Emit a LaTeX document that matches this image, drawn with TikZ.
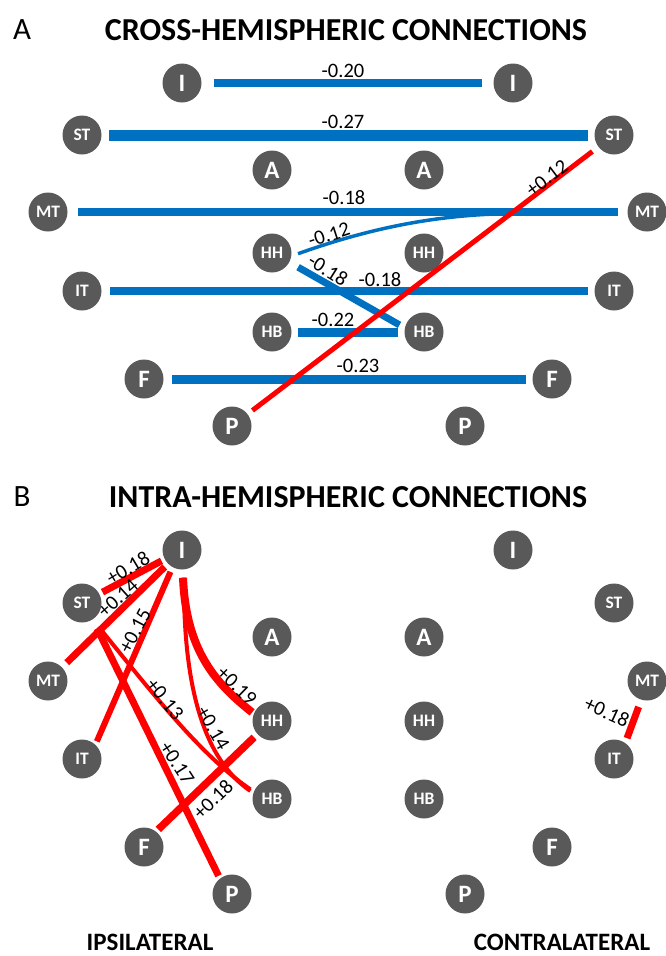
\documentclass[tikz,border=0pt]{standalone}
\usepackage{fontspec}
\setmainfont{Carlito}
\definecolor{ndgray}{HTML}{595959}
\definecolor{cblue}{HTML}{0070C0}
\definecolor{cred}{HTML}{FF0000}
\tikzset{
  nd/.style={circle, fill=ndgray, minimum size=39pt, inner sep=0pt, text=white, font=\bfseries\fontsize{25}{25}\selectfont},
  nds/.style={nd, font=\bfseries\fontsize{17.5}{17.5}\selectfont},
  bl/.style={draw=cblue, line width=#1},
  rd/.style={draw=cred, line width=#1},
  lab/.style={font=\fontsize{20.5}{20.5}\selectfont, inner sep=0pt, text=black},
  ttl/.style={font=\bfseries\fontsize{32}{32}\selectfont, inner sep=0pt},
  panl/.style={font=\fontsize{31}{31}\selectfont, inner sep=0pt},
  side/.style={font=\bfseries\fontsize{25}{25}\selectfont, inner sep=0pt},
}
\begin{document}
\begin{tikzpicture}[x=1pt,y=-1pt]
\useasboundingbox (0,0) rectangle (665,956);
% ---------------- Panel A ----------------
\node[panl] (pA) at (22,30) {A};
\node[ttl] (tA) at (346,30) {CROSS-HEMISPHERIC CONNECTIONS};
\node[nd]  (aIl)  at (182,83)  {I};
\node[nds] (aSTl) at (82,135)  {ST};
\node[nd]  (aAl)  at (272,170) {A};
\node[nds] (aMTl) at (48,212)  {MT};
\node[nds] (aHHl) at (272,253) {HH};
\node[nds] (aITl) at (82,291)  {IT};
\node[nds] (aHBl) at (272,332) {HB};
\node[nd]  (aFl)  at (144,379) {F};
\node[nd]  (aPl)  at (232,426) {P};
\node[nd]  (aIr)  at (513,83)  {I};
\node[nds] (aSTr) at (614,135) {ST};
\node[nd]  (aAr)  at (424,170) {A};
\node[nds] (aMTr) at (647,212) {MT};
\node[nds] (aHHr) at (424,253) {HH};
\node[nds] (aITr) at (614,291) {IT};
\node[nds] (aHBr) at (424,332) {HB};
\node[nd]  (aFr)  at (552,379) {F};
\node[nd]  (aPr)  at (465,426) {P};
\draw[bl=8, shorten <=12pt, shorten >=11pt] (aIl) -- (aIr);
\draw[bl=11, shorten <=7.5pt, shorten >=6.5pt] (aSTl) -- (aSTr);
\draw[bl=8, shorten <=10.5pt, shorten >=9.5pt] (aMTl) -- (aMTr);
\draw[bl=8, shorten <=8.5pt, shorten >=6.5pt] (aITl) -- (aITr);
\draw[bl=9, shorten <=6.5pt, shorten >=6.5pt] (aHBl) -- (aHBr);
\draw[bl=9, shorten <=8.5pt, shorten >=6.5pt] (aFl) -- (aFr);
\coordinate (mtjoin) at (520,213.5);
\draw[bl=3.5, shorten <=7pt, shorten >=10.5pt] (aHHl.-9) .. controls (370,228) and (440,213.5) .. (mtjoin) -- (aMTr.185);
\draw[bl=7, shorten <=10pt, shorten >=6pt] (aHHl.-28) -- (aHBr.168);
\draw[rd=5, shorten <=6pt, shorten >=7.5pt] (aPl) -- (aSTr);
\node[lab] (lA1) at (343,71) {-0.20};
\node[lab] (lA2) at (343,122) {-0.27};
\node[lab] (lA3) at (344,198) {-0.18};
\node[lab, rotate=18] (lA4) at (329,235) {-0.12};
\node[lab, rotate=-32] (lA5) at (328,270) {-0.18};
\node[lab] (lA6) at (380,280) {-0.18};
\node[lab] (lA7) at (333,320) {-0.22};
\node[lab] (lA8) at (358,366) {-0.23};
\node[lab, rotate=37] (lA9) at (547,178) {+0.12};
% ---------------- Panel B ----------------
\node[panl] (pB) at (22,497) {B};
\node[ttl] (tB) at (348,497) {INTRA-HEMISPHERIC CONNECTIONS};
\node[nd]  (bIl)  at (182,550) {I};
\node[nds] (bSTl) at (82,603)  {ST};
\node[nd]  (bAl)  at (272,637) {A};
\node[nds] (bMTl) at (48,681)  {MT};
\node[nds] (bHHl) at (272,721) {HH};
\node[nds] (bITl) at (82,759)  {IT};
\node[nds] (bHBl) at (272,799) {HB};
\node[nd]  (bFl)  at (144,847) {F};
\node[nd]  (bPl)  at (232,894) {P};
\node[nd]  (cIr)  at (513,550) {I};
\node[nds] (cSTr) at (614,603) {ST};
\node[nd]  (cAr)  at (424,637) {A};
\node[nds] (cMTr) at (647,681) {MT};
\node[nds] (cHHr) at (424,721) {HH};
\node[nds] (cITr) at (614,759) {IT};
\node[nds] (cHBr) at (424,799) {HB};
\node[nd]  (cFr)  at (552,847) {F};
\node[nd]  (cPr)  at (465,894) {P};
\draw[rd=7, shorten <=3.5pt, shorten >=3.5pt] (bIl) -- (bSTl);
\draw[rd=7, shorten <=4.5pt, shorten >=6.5pt] (bIl) -- (bMTl);
\draw[rd=6, shorten <=5pt, shorten >=3.5pt] (bIl.241) -- (bITl.47);
\draw[rd=8, shorten <=8pt, shorten >=2pt] (bIl.-88) .. controls (186,650) and (215,683) .. (bHHl.158);
\draw[rd=4, shorten <=8pt, shorten >=3.5pt] (bIl.-84) .. controls (183,690) and (205,760) .. (bHBl.162);
\draw[rd=4, shorten <=10pt, shorten >=4pt] (bSTl.-57) .. controls (150,690) and (200,755) .. (bHBl.158);
\draw[rd=7, shorten <=10pt, shorten >=3pt] (bSTl.-57) -- (bPl.128);
\draw[rd=7.5, shorten <=3pt, shorten >=4.5pt] (bFl.52) -- (bHHl.222);
\draw[rd=7, shorten <=7.5pt, shorten >=5pt] (cMTr.253) -- (cITr.55);
\node[lab, rotate=31] (lB1) at (128,568) {+0.18};
\node[lab, rotate=42] (lB2) at (118,598) {+0.14};
\node[lab, rotate=62] (lB3) at (135,631) {+0.15};
\node[lab, rotate=-44] (lB4) at (237,686) {+0.19};
\node[lab, rotate=-60] (lB5) at (213,728) {+0.14};
\node[lab, rotate=-51] (lB6) at (165,699) {+0.13};
\node[lab, rotate=-57] (lB7) at (177,763) {+0.17};
\node[lab, rotate=44] (lB8) at (213,799) {+0.18};
\node[lab, rotate=-25] (lB9) at (607,712) {+0.18};
\node[side] (ipsi) at (150,942) {IPSILATERAL};
\node[side] (contra) at (562,942) {CONTRALATERAL};
\end{tikzpicture}
\end{document}
